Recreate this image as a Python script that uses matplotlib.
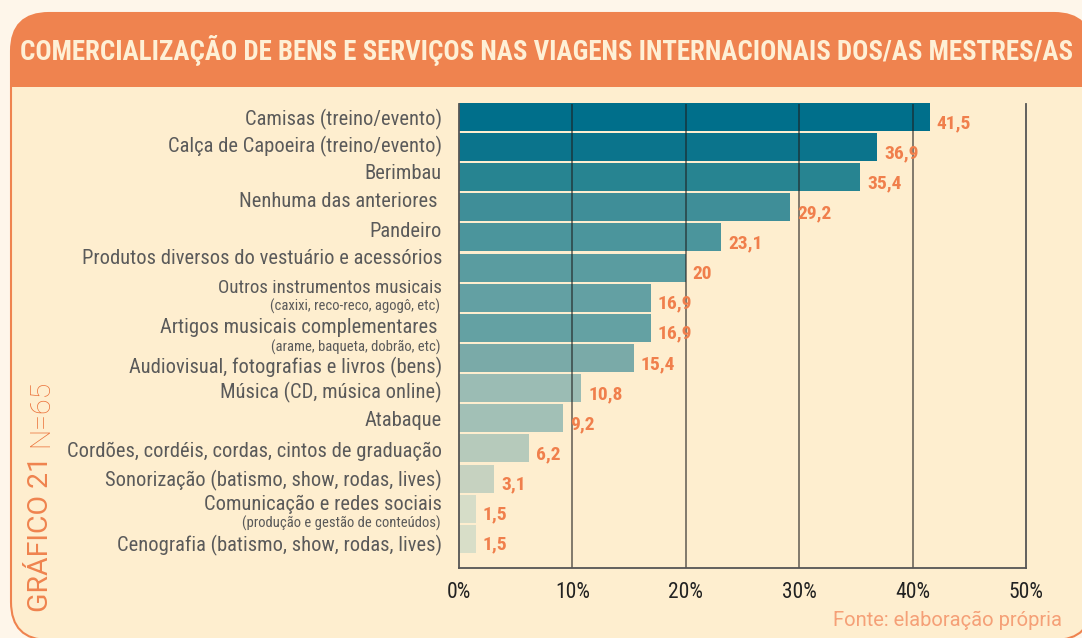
import matplotlib.pyplot as plt
from matplotlib import font_manager
from matplotlib.patches import FancyBboxPatch, Rectangle

# dados do gráfico
categorias = [
    'Camisas (treino/evento)',
    'Calça de Capoeira (treino/evento)',
    'Berimbau',
    'Nenhuma das anteriores ',
    'Pandeiro',
    'Produtos diversos do vestuário e acessórios',
    'Outros instrumentos musicais',
    'Artigos musicais complementares ',
    'Audiovisual, fotografias e livros (bens)',
    'Música (CD, música online)',
    'Atabaque',
    'Cordões, cordéis, cordas, cintos de graduação',
    'Sonorização (batismo, show, rodas, lives)',
    'Comunicação e redes sociais',
    'Cenografia (batismo, show, rodas, lives)',
]
subtitulos = {
    6: '(caxixi, reco-reco, agogô, etc)',
    7: '(arame, baqueta, dobrão, etc)',
    13: '(produção e gestão de conteúdos)',
}
valores = [41.5, 36.9, 35.4, 29.2, 23.1, 20, 16.9, 16.9, 15.4, 10.8, 9.2, 6.2, 3.1, 1.5, 1.5]
rotulos = ['41,5', '36,9', '35,4', '29,2', '23,1', '20', '16,9', '16,9', '15,4', '10,8',
           '9,2', '6,2', '3,1', '1,5', '1,5']
cores = ['#006f8b', '#0b748c', '#278491', '#3f8e98', '#4b959c', '#5a9ca0', '#63a0a3', '#64a1a3',
         '#7aaaa8', '#9bbcb4', '#a2c0b6', '#b6cabb', '#c6d2c0', '#d6ddc8', '#d8dec8']
ticks = [0, 10, 20, 30, 40, 50]

LARANJA = '#ef834f'
CREME = '#feeecf'

nomes = {f.name for f in font_manager.fontManager.ttflist}
COND = 'Roboto Condensed' if 'Roboto Condensed' in nomes else 'Roboto'
plt.rcParams['font.family'] = [COND, 'DejaVu Sans']

W, H = 1082, 638
fig = plt.figure(figsize=(W / 100, H / 100), dpi=100, facecolor='#fef6ea')

# fundo em coordenadas de pixel
bg = fig.add_axes([0, 0, 1, 1])
bg.set_xlim(0, W)
bg.set_ylim(H, 0)
bg.axis('off')
bg.set_zorder(0)

painel = FancyBboxPatch((11, 13), 1081, 627, boxstyle='round,pad=0,rounding_size=38',
                        facecolor=CREME, edgecolor=LARANJA, lw=1.5)
bg.add_patch(painel)
cab = Rectangle((0, 0), W + 20, 87, facecolor=LARANJA, edgecolor='none')
bg.add_patch(cab)
cab.set_clip_path(painel)

r = fig.canvas.get_renderer()

titulo = bg.text(20, 51, 'COMERCIALIZAÇÃO DE BENS E SERVIÇOS NAS VIAGENS INTERNACIONAIS DOS/AS MESTRES/AS',
                 ha='left', va='center', fontsize=20, fontweight='bold', color='#fef0d6')
w = titulo.get_window_extent(r).width
if w > 1055:
    titulo.set_fontsize(20 * 1055 / w)

bg.text(41, 612, 'GRÁFICO 21', rotation=90, ha='center', va='bottom', fontsize=20.5,
        color=LARANJA, family='Roboto')
bg.text(41, 447, 'N=65', rotation=90, ha='center', va='bottom', fontsize=20.5,
        color='#ea7038', family='Roboto', fontweight='light')
bg.text(1062, 620, 'Fonte: elaboração própria', ha='right', va='center', fontsize=14.5,
        color='#f5a077', family='Roboto')

# gráfico de barras
x0, x1, ytop, ybot = 459, 1026, 104, 568
ax = fig.add_axes([x0 / W, (H - ybot) / H, (x1 - x0) / W, (ybot - ytop) / H])
ax.set_zorder(2)
ax.patch.set_alpha(0)

pos = list(range(len(valores)))
ax.barh(pos, valores, height=0.93, color=cores, zorder=1, clip_on=False)
ax.set_xlim(0, 50)
ax.set_ylim(14.97, -0.43)
ax.set_xticks(ticks)
ax.set_xticklabels([f'{t}%' for t in ticks], fontsize=15.5, color='#222222')
ax.tick_params(axis='x', length=0, pad=10)
ax.set_yticks([])
for t in ticks[1:-1]:
    ax.axvline(t, color='#1e1e1e', lw=1.2, alpha=0.65, zorder=2)
for s in ['left', 'bottom', 'right']:
    ax.spines[s].set_color('#555555')
    ax.spines[s].set_linewidth(1.3)
ax.spines['top'].set_visible(False)

for i, (v, rot) in enumerate(zip(valores, rotulos)):
    ax.annotate(rot, (v, i + 0.2), xytext=(5, 0), textcoords='offset points',
                ha='left', va='center', fontsize=14, fontweight='bold', color='#f07f4c',
                zorder=3)

# deslocamento vertical de cada rótulo em relação à barra (como no original)
desl = [0.07, -0.03, -0.13, -0.2, -0.2, -0.3, -0.33, 0.0, 0.33, 0.13, 0.07, 0.1, 0.07, -0.15, 0.23]
desl_sub = {6: 0.3, 7: 0.65, 13: 0.5}

textos = []
for i, c in enumerate(categorias):
    t = ax.text(-0.03, i + desl[i], c, transform=ax.get_yaxis_transform(), ha='right',
                va='center', fontsize=15, color='#5a5a5a')
    textos.append(t)
    if i in subtitulos:
        ax.text(-0.033, i + desl_sub[i], subtitulos[i], transform=ax.get_yaxis_transform(),
                ha='right', va='center', fontsize=10.5, color='#5a5a5a')

maxw = max(t.get_window_extent(r).width for t in textos)
esc = min(1, 375 / maxw)
for t in textos:
    t.set_fontsize(15 * esc)
textos[6].set_fontsize(15 * esc * 0.92)

fig.savefig('out.png', dpi=100, facecolor=fig.get_facecolor())
